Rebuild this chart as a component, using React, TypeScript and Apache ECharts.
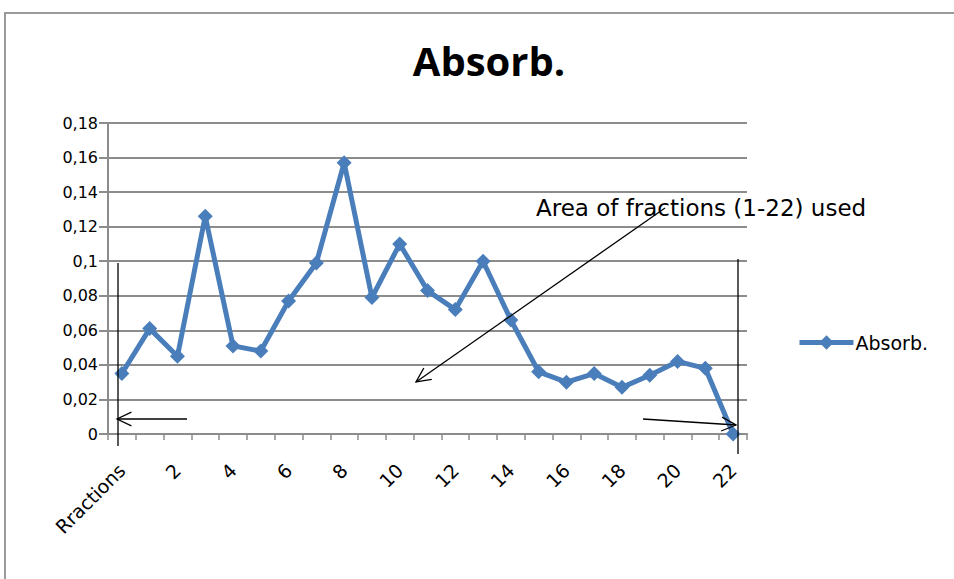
import React, { useEffect, useRef } from "react";
import * as echarts from "echarts";

const categories: string[] = ["Rractions", "1", "2", "3", "4", "5", "6", "7", "8", "9", "10", "11", "12", "13", "14", "15", "16", "17", "18", "19", "20", "21", "22"];
const absorbValues: number[] = [0.035, 0.061, 0.045, 0.126, 0.051, 0.048, 0.077, 0.099, 0.157, 0.079, 0.110, 0.083, 0.072, 0.100, 0.066, 0.036, 0.030, 0.035, 0.027, 0.034, 0.042, 0.038, 0.0];
const seriesName = "Absorb.";
const annotationText = "Area of fractions (1-22) used";

const FONT = "DejaVu Sans";
const TITLE_FONT = "Open Sans";
const BLUE = "#4a7ebb";
const GRID = "#8c8c8c";

function arrow(x1: number, y1: number, x2: number, y2: number, len = 16, spread = 0.45) {
  const a = Math.atan2(y2 - y1, x2 - x1);
  const p1 = [x2 - len * Math.cos(a - spread), y2 - len * Math.sin(a - spread)];
  const p2 = [x2 - len * Math.cos(a + spread), y2 - len * Math.sin(a + spread)];
  const style = { stroke: "#000", lineWidth: 1.3, fill: null as any };
  return [
    { type: "line", shape: { x1, y1, x2, y2 }, style, z: 100 },
    { type: "polyline", shape: { points: [p1, [x2, y2], p2] }, style, z: 100 },
  ];
}

export default function App() {
  const ref = useRef<HTMLDivElement>(null);
  useEffect(() => {
    if (!ref.current) return;
    const chart = echarts.init(ref.current, null, { renderer: "svg" });
    const lineStyle = { stroke: "#000", lineWidth: 1.3 };
    chart.setOption({
      animation: false,
      backgroundColor: "#fff",
      title: {
        text: seriesName,
        left: 484,
        top: 35,
        textAlign: "center",
        textStyle: { fontFamily: TITLE_FONT, fontSize: 40, fontWeight: "bold", color: "#000" },
      },
      legend: {
        left: 792,
        top: 328,
        itemWidth: 54,
        itemHeight: 18,
        itemGap: 4,
        lineStyle: { width: 5 },
        textStyle: { fontFamily: FONT, fontSize: 19, color: "#000", padding: [0, 0, 0, -3] },
        data: [seriesName],
      },
      grid: { left: 108, right: 207, top: 123, bottom: 145, containLabel: false },
      xAxis: {
        type: "category",
        data: categories,
        boundaryGap: true,
        axisLine: { lineStyle: { color: GRID, width: 2 } },
        axisTick: { show: true, interval: 0, length: 6, lineStyle: { color: GRID, width: 1.5 } },
        axisLabel: {
          interval: 1,
          rotate: 45,
          fontFamily: FONT,
          fontSize: 19,
          color: "#000",
          margin: 33,
        },
        splitLine: { show: false },
      },
      yAxis: {
        type: "value",
        min: 0,
        max: 0.18,
        interval: 0.02,
        axisLine: { show: true, lineStyle: { color: GRID, width: 2 } },
        axisTick: { show: true, length: 9, lineStyle: { color: GRID, width: 2 } },
        axisLabel: {
          fontFamily: FONT,
          fontSize: 16,
          color: "#000",
          margin: 10,
          formatter: (v: number) => String(parseFloat(v.toFixed(2))).replace(".", ","),
        },
        splitLine: { show: true, lineStyle: { color: GRID, width: 2 } },
      },
      series: [
        {
          name: seriesName,
          type: "line",
          data: absorbValues,
          symbol: "diamond",
          symbolSize: 15,
          lineStyle: { color: BLUE, width: 5 },
          itemStyle: { color: BLUE },
          clip: false,
          z: 5,
        },
      ],
      graphic: [
        {
          type: "rect",
          shape: { x: 5, y: 13, width: 1000, height: 700 },
          style: { fill: null, stroke: "#9a9a9a", lineWidth: 2 },
          z: -1,
          silent: true,
        },
        {
          type: "rect",
          shape: { x: 533, y: 195, width: 345, height: 27 },
          style: { fill: "#fff" },
          z: 90,
        },
        {
          type: "text",
          x: 536,
          y: 208,
          style: {
            text: annotationText,
            fontFamily: FONT,
            fontSize: 23,
            fill: "#000",
            textVerticalAlign: "middle",
          },
          z: 101,
        },
        { type: "line", shape: { x1: 118, y1: 263, x2: 118, y2: 446 }, style: lineStyle, z: 100 },
        { type: "line", shape: { x1: 738, y1: 259, x2: 738, y2: 454 }, style: lineStyle, z: 100 },
        ...arrow(187, 419, 117, 419),
        ...arrow(643, 419, 736, 425),
        ...arrow(665, 208, 416, 382),
      ],
    });
    return () => chart.dispose();
  }, []);
  return (
    <div
      ref={ref}
      style={{ position: "absolute", left: 0, top: 0, width: 954, height: 579 }}
    />
  );
}
